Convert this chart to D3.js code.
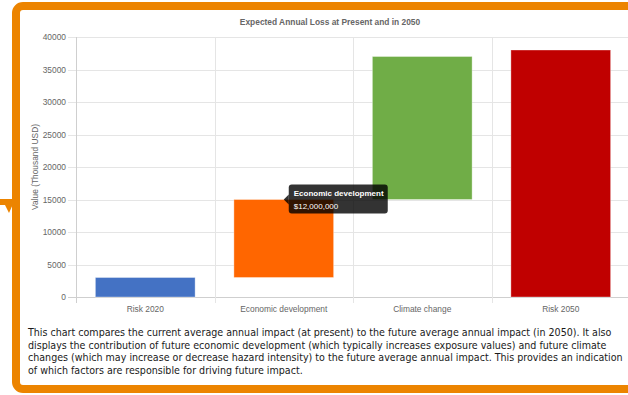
<!DOCTYPE html>
<html>
<head>
<meta charset="utf-8">
<script src="https://cdn.jsdelivr.net/npm/d3@7"></script>
<style>
  html, body { margin: 0; padding: 0; background: #fff; }
  svg { display: block; }
</style>
</head>
<body>
<div id="chart"></div>
<script>
const categories = ["Risk 2020", "Economic development", "Climate change", "Risk 2050"];
const barStart = [0, 3000, 15000, 0];
const barEnd = [3000, 15000, 37000, 38000];
const barColors = ["#4472c4", "#ff6600", "#70ad47", "#c00000"];
const yTicks = [0, 5000, 10000, 15000, 20000, 25000, 30000, 35000, 40000];
const tooltipIndex = 1;

const description = [
    "This chart compares the current average annual impact (at present) to the future average annual impact (in 2050). It also",
    "displays the contribution of future economic development (which typically increases exposure values) and future climate",
    "changes (which may increase or decrease hazard intensity) to the future average annual impact. This provides an indication",
    "of which factors are responsible for driving future impact."
];

const width = 628;
const height = 395;
const svg = d3.select('#chart')
    .append('svg')
        .attr('width', width)
        .attr('height', height);

// orange frame
svg.append('rect')
    .attr('x', 16)
    .attr('y', 6)
    .attr('width', 640)
    .attr('height', 383)
    .attr('rx', 7)
    .attr('fill', '#fff')
    .attr('stroke', '#ec8400')
    .attr('stroke-width', 8);

// little tab on the left of the frame
svg.append('path')
    .attr('d', 'M0,199 L13,199 L13,204 L9,213 L5,205 L0,205 Z')
    .attr('fill', '#ec8400');

const margin = { left: 76, right: -2, top: 37, bottom: 98 };
const x = d3.scaleBand()
    .domain(categories)
    .range([margin.left, width - margin.right])
    .paddingInner(0)
    .paddingOuter(0);

const y = d3.scaleLinear()
    .domain([0, 40000])
    .range([height - margin.bottom, margin.top]);

const gridColor = '#e5e5e5';
const textColor = '#666';
const font = '"Liberation Sans", Arial, sans-serif';

// horizontal grid lines + ticks
svg.append('g')
    .selectAll('line')
    .data(yTicks)
    .join('line')
        .attr('x1', margin.left - 8)
        .attr('x2', width)
        .attr('y1', d => Math.round(y(d)) + 0.5)
        .attr('y2', d => Math.round(y(d)) + 0.5)
        .attr('stroke', d => d === 0 ? '#cfcfcf' : gridColor);

// vertical grid lines between categories
svg.append('g')
    .selectAll('line')
    .data(categories)
    .join('line')
        .attr('x1', d => Math.round(x(d)) + 0.5)
        .attr('x2', d => Math.round(x(d)) + 0.5)
        .attr('y1', margin.top)
        .attr('y2', y(0) + 6)
        .attr('stroke', (d, i) => i === 0 ? '#cfcfcf' : gridColor);

// y tick labels
svg.append('g')
    .selectAll('text')
    .data(yTicks)
    .join('text')
        .attr('x', margin.left - 10)
        .attr('y', d => y(d) + 3)
        .attr('text-anchor', 'end')
        .attr('font-family', font)
        .attr('font-size', 8.4)
        .attr('fill', textColor)
        .text(d => d);

// y axis title
svg.append('text')
    .attr('transform', `translate(38,${(y(0) + y(40000)) / 2}) rotate(-90)`)
    .attr('text-anchor', 'middle')
    .attr('font-family', font)
    .attr('font-size', 8.4)
    .attr('fill', textColor)
    .text('Value (Thousand USD)');

// chart title
svg.append('text')
    .attr('x', 330)
    .attr('y', 25)
    .attr('text-anchor', 'middle')
    .attr('font-family', font)
    .attr('font-weight', 'bold')
    .attr('font-size', 8.4)
    .attr('fill', textColor)
    .text('Expected Annual Loss at Present and in 2050');

// bars (floating, waterfall style)
const barW = x.bandwidth() * 0.72;
svg.append('g')
    .selectAll('rect')
    .data(categories)
    .join('rect')
        .attr('x', d => x(d) + (x.bandwidth() - barW) / 2)
        .attr('y', (d, i) => y(barEnd[i]))
        .attr('width', barW)
        .attr('height', (d, i) => y(barStart[i]) - y(barEnd[i]))
        .attr('fill', (d, i) => barColors[i])
        .attr('stroke', 'rgba(255,255,255,0.35)')
        .attr('stroke-width', 1);

// x labels
svg.append('g')
    .selectAll('text')
    .data(categories)
    .join('text')
        .attr('x', d => x(d) + x.bandwidth() / 2)
        .attr('y', y(0) + 15)
        .attr('text-anchor', 'middle')
        .attr('font-family', font)
        .attr('font-size', 8.4)
        .attr('fill', textColor)
        .text(d => d);

// tooltip on the economic development bar
const tipValue = (barEnd[tooltipIndex] - barStart[tooltipIndex]) * 1000;
const tipX = x(categories[tooltipIndex]) + x.bandwidth() / 2;
const tipY = y(barEnd[tooltipIndex]);
const tip = svg.append('g')
    .attr('transform', `translate(${tipX},${tipY})`);
tip.append('path')
    .attr('d', 'M0,0 L5,-5 L5,5 Z')
    .attr('fill', 'rgba(0,0,0,0.8)');
tip.append('rect')
    .attr('x', 5)
    .attr('y', -15)
    .attr('width', 99)
    .attr('height', 29)
    .attr('rx', 3)
    .attr('fill', 'rgba(0,0,0,0.8)');
tip.append('text')
    .attr('x', 10)
    .attr('y', -4)
    .attr('font-family', font)
    .attr('font-weight', 'bold')
    .attr('font-size', 8)
    .attr('fill', '#fff')
    .text(categories[tooltipIndex]);
tip.append('text')
    .attr('x', 10)
    .attr('y', 9)
    .attr('font-family', font)
    .attr('font-size', 8)
    .attr('fill', '#fff')
    .text('$' + d3.format(',')(tipValue));

// description under the chart
svg.append('g')
    .selectAll('text')
    .data(description)
    .join('text')
        .attr('x', 28)
        .attr('y', (d, i) => 336 + i * 12.7)
        .attr('font-family', '"DejaVu Sans Condensed", "DejaVu Sans", sans-serif')
        .attr('font-size', 10.6)
        .attr('fill', '#1a1a1a')
        .text(d => d);
</script>
</body>
</html>
